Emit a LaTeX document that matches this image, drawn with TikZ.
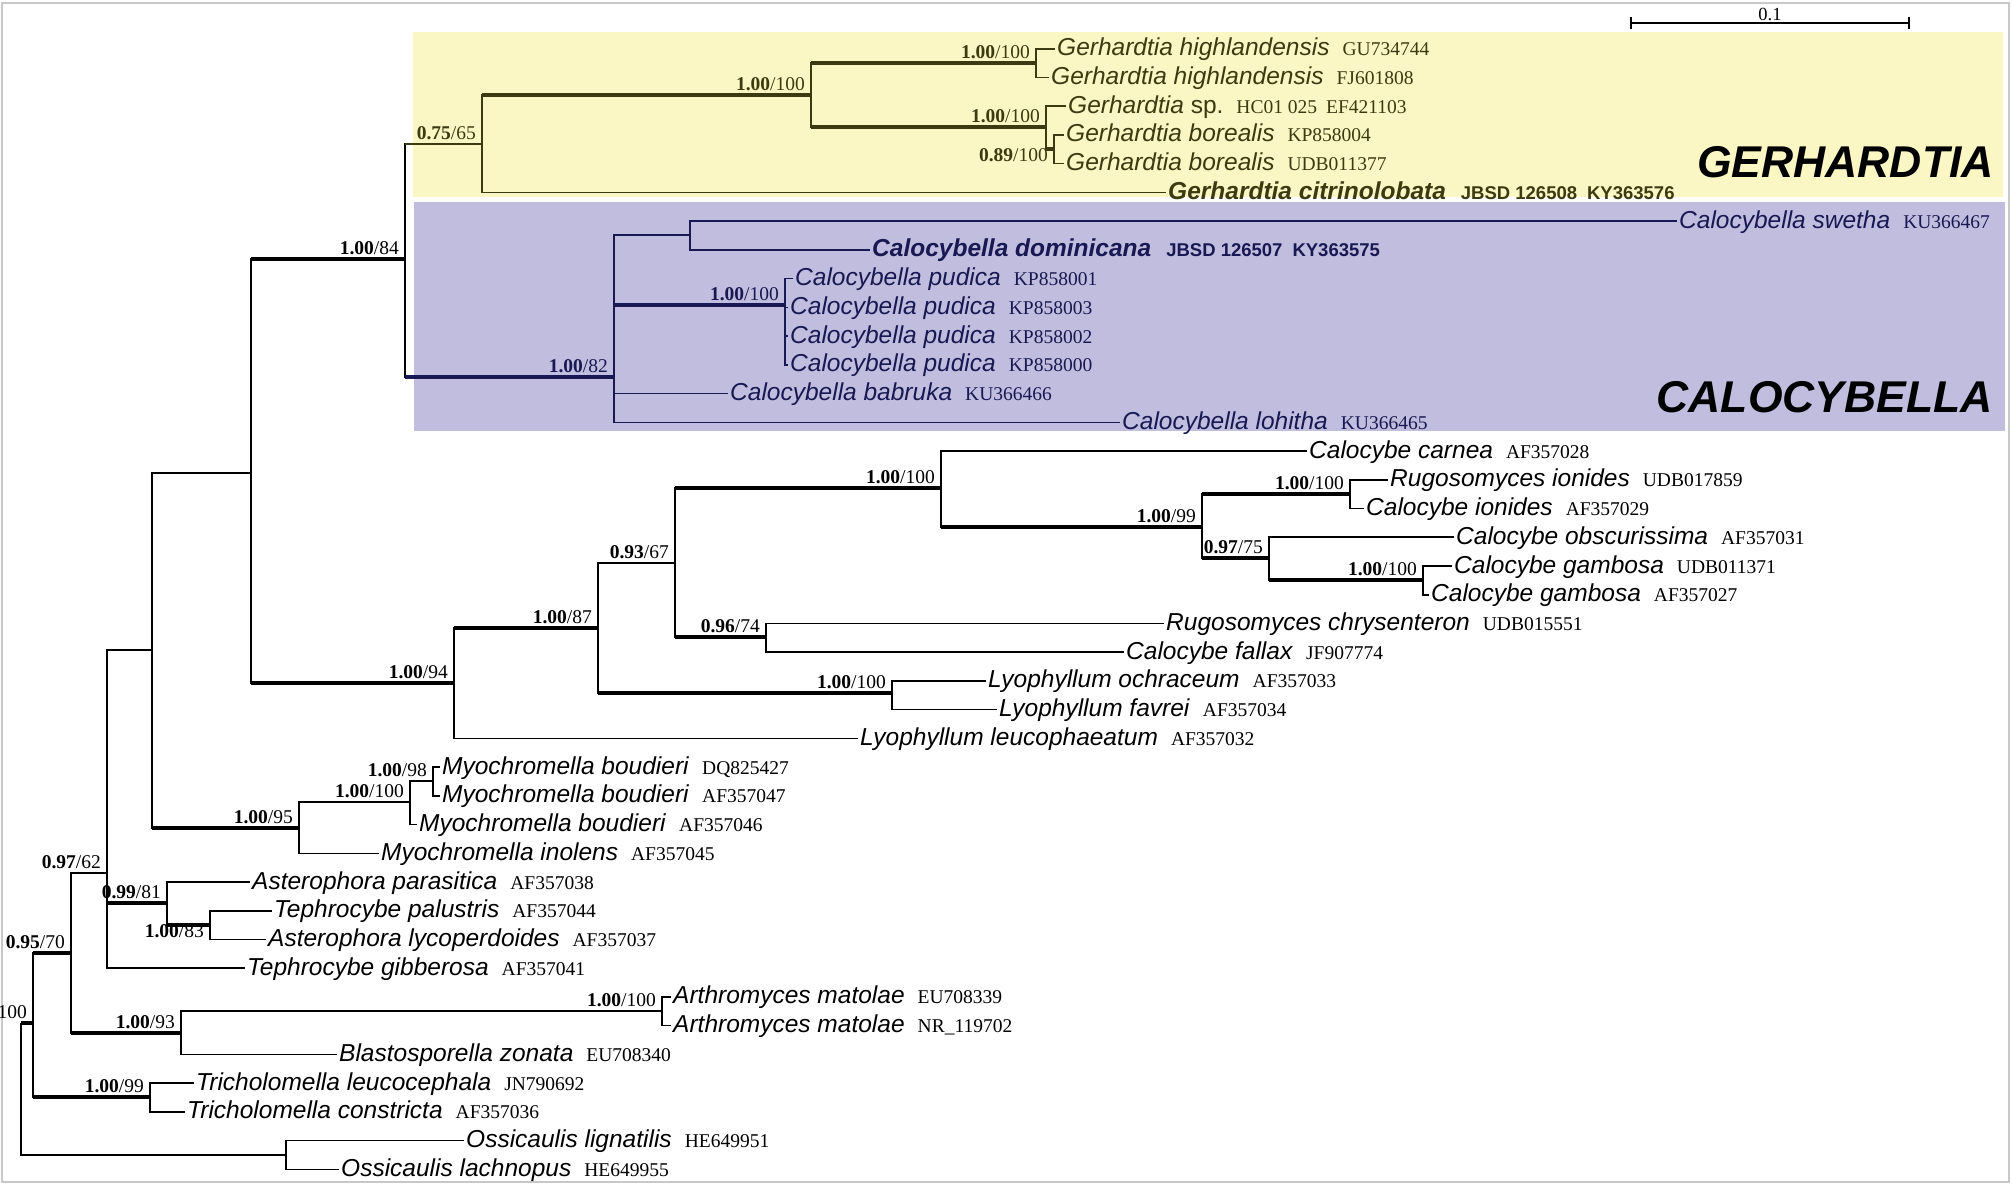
\documentclass[tikz,border=0pt]{standalone}
\usepackage{fontspec}
\setmainfont{Liberation Serif}
\setsansfont{Liberation Sans}
\usepackage{xcolor}
\usepackage{tikz}
\usetikzlibrary{positioning}
\definecolor{gerfill}{RGB}{250,247,196}
\definecolor{calfill}{RGB}{192,189,222}
\definecolor{gerdark}{RGB}{60,58,16}
\definecolor{caldark}{RGB}{24,24,82}
\definecolor{framegray}{RGB}{200,200,200}
\newcommand{\accfont}{\rmfamily\upshape\mdseries\fontsize{19.5}{21}\selectfont}
\newcommand{\taxon}[2]{\textit{#1}\hspace{13pt}{\accfont #2}}
\newcommand{\newtaxon}[2]{\textbf{\textit{#1}}\hspace{15pt}{\bfseries\fontsize{18.5}{20}\selectfont #2}}
\newcommand{\pb}[2]{\textbf{#1}/#2}
\tikzset{
  branch/.style={line width=1.6pt, line join=miter},
  strong/.style={line width=4.2pt},
  leaf/.style={anchor=west, inner xsep=2pt, inner ysep=0pt, text height=17pt, text depth=3pt,
               font=\sffamily\fontsize{24.5}{26}\selectfont},
  gerleaf/.style={leaf, text=gerdark},
  calleaf/.style={leaf, text=caldark},
  supp/.style={anchor=south east, inner sep=0pt, xshift=-6pt, yshift=4pt,
               font=\rmfamily\fontsize{19.5}{21}\selectfont},
  suppbelow/.style={supp, anchor=north east, yshift=-3pt},
  cladename/.style={anchor=base east, inner sep=0pt, font=\sffamily\bfseries\itshape\fontsize{44.5}{50}\selectfont},
  scalebar/.style={line width=1.4pt}
}

\begin{document}
\begin{tikzpicture}[x=1pt, y=-1pt]
\useasboundingbox (0,0) rectangle (2012,1185);
\draw[framegray, line width=1.5pt] (2,3) rectangle (2009,1182);
\fill[gerfill] (413,32) rectangle (2003,197);
\fill[calfill] (414,202) rectangle (2005,431);

\coordinate (root) at (21,1023);
\coordinate (nA) at (33,1023);
\coordinate (nB) at (71,953);
\coordinate (tric) at (150,1097);
\coordinate (oss) at (286,1155);
\coordinate (nC) at (107,873);
\coordinate (nD) at (181,1033);
\coordinate (arth) at (662,1011);
\coordinate (nE) at (152,650);
\coordinate (aster) at (167,903);
\coordinate (nF) at (210,925);
\coordinate (nG) at (251,473);
\coordinate (myo) at (299,828);
\coordinate (myo2) at (410,802);
\coordinate (myo3) at (433,781);
\coordinate (nH) at (405,259);
\coordinate (lyo) at (454,683);
\coordinate (gerh) at (482,144);
\coordinate (calo) at (614,377);
\coordinate (gerh2) at (811,95);
\coordinate (ghigh) at (1036,63);
\coordinate (gbor) at (1046,127);
\coordinate (gbor2) at (1054,149);
\coordinate (calo2) at (690,235);
\coordinate (pud) at (785,305);
\coordinate (lyo2) at (598,628);
\coordinate (lyo3) at (675,563);
\coordinate (lyo4) at (892,693);
\coordinate (calc) at (941,488);
\coordinate (chry) at (766,637);
\coordinate (calc2) at (1202,527);
\coordinate (ion) at (1350,494);
\coordinate (calc3) at (1269,558);
\coordinate (gamb) at (1423,580);

\node[gerleaf] (t1) at (1055,48.8) {\taxon{Gerhardtia highlandensis}{GU734744}};
\node[gerleaf] (t2) at (1049,77.5) {\taxon{Gerhardtia highlandensis}{FJ601808}};
\node[gerleaf] (t3) at (1066,106.3) {\textit{Gerhardtia} sp.\hspace{13pt}{\accfont HC01 025\hspace{9pt}EF421103}};
\node[gerleaf] (t4) at (1064,135.0) {\taxon{Gerhardtia borealis}{KP858004}};
\node[gerleaf] (t5) at (1064,163.7) {\taxon{Gerhardtia borealis}{UDB011377}};
\node[gerleaf] (t6) at (1166,192.5) {\newtaxon{Gerhardtia citrinolobata}{JBSD 126508\hspace{10pt}KY363576}};
\node[calleaf] (t7) at (1677,221.2) {\taxon{Calocybella swetha}{KU366467}};
\node[calleaf] (t8) at (870,249.9) {\newtaxon{Calocybella dominicana}{JBSD 126507\hspace{10pt}KY363575}};
\node[calleaf] (t9) at (793,278.6) {\taxon{Calocybella pudica}{KP858001}};
\node[calleaf] (t10) at (788,307.4) {\taxon{Calocybella pudica}{KP858003}};
\node[calleaf] (t11) at (788,336.1) {\taxon{Calocybella pudica}{KP858002}};
\node[calleaf] (t12) at (788,364.8) {\taxon{Calocybella pudica}{KP858000}};
\node[calleaf] (t13) at (728,393.6) {\taxon{Calocybella babruka}{KU366466}};
\node[calleaf] (t14) at (1120,422.3) {\taxon{Calocybella lohitha}{KU366465}};
\node[leaf] (t15) at (1307,451.0) {\taxon{Calocybe carnea}{AF357028}};
\node[leaf] (t16) at (1388,479.8) {\taxon{Rugosomyces ionides}{UDB017859}};
\node[leaf] (t17) at (1364,508.5) {\taxon{Calocybe ionides}{AF357029}};
\node[leaf] (t18) at (1454,537.2) {\taxon{Calocybe obscurissima}{AF357031}};
\node[leaf] (t19) at (1452,566.0) {\taxon{Calocybe gambosa}{UDB011371}};
\node[leaf] (t20) at (1429,594.7) {\taxon{Calocybe gambosa}{AF357027}};
\node[leaf] (t21) at (1164,623.4) {\taxon{Rugosomyces chrysenteron}{UDB015551}};
\node[leaf] (t22) at (1124,652.1) {\taxon{Calocybe fallax}{JF907774}};
\node[leaf] (t23) at (986,680.9) {\taxon{Lyophyllum ochraceum}{AF357033}};
\node[leaf] (t24) at (997,709.6) {\taxon{Lyophyllum favrei}{AF357034}};
\node[leaf] (t25) at (858,738.3) {\taxon{Lyophyllum leucophaeatum}{AF357032}};
\node[leaf] (t26) at (440,767.1) {\taxon{Myochromella boudieri}{DQ825427}};
\node[leaf] (t27) at (440,795.8) {\taxon{Myochromella boudieri}{AF357047}};
\node[leaf] (t28) at (417,824.5) {\taxon{Myochromella boudieri}{AF357046}};
\node[leaf] (t29) at (379,853.3) {\taxon{Myochromella inolens}{AF357045}};
\node[leaf] (t30) at (250,882.0) {\taxon{Asterophora parasitica}{AF357038}};
\node[leaf] (t31) at (272,910.7) {\taxon{Tephrocybe palustris}{AF357044}};
\node[leaf] (t32) at (266,939.4) {\taxon{Asterophora lycoperdoides}{AF357037}};
\node[leaf] (t33) at (245,968.2) {\taxon{Tephrocybe gibberosa}{AF357041}};
\node[leaf] (t34) at (671,996.9) {\taxon{Arthromyces matolae}{EU708339}};
\node[leaf] (t35) at (671,1025.6) {\taxon{Arthromyces matolae}{NR\_119702}};
\node[leaf] (t36) at (337,1054.4) {\taxon{Blastosporella zonata}{EU708340}};
\node[leaf] (t37) at (194,1083.1) {\taxon{Tricholomella leucocephala}{JN790692}};
\node[leaf] (t38) at (185,1111.8) {\taxon{Tricholomella constricta}{AF357036}};
\node[leaf] (t39) at (464,1140.6) {\taxon{Ossicaulis lignatilis}{HE649951}};
\node[leaf] (t40) at (339,1169.3) {\taxon{Ossicaulis lachnopus}{HE649955}};

\foreach \p/\c in {root/nA, root/oss, nA/nB, nA/tric, nB/nC, nB/nD, nC/nE, nC/aster, nC/t33.west,
    nD/arth, nD/t36.west, arth/t34.west, arth/t35.west, aster/t30.west, aster/nF, nF/t31.west, nF/t32.west,
    nE/nG, nE/myo, nG/nH, nG/lyo, myo/myo2, myo/t29.west, myo2/myo3, myo2/t28.west, myo3/t26.west, myo3/t27.west,
    nH/gerh, nH/calo, lyo/lyo2, lyo/t25.west, lyo2/lyo3, lyo2/lyo4, lyo3/calc, lyo3/chry, lyo4/t23.west, lyo4/t24.west,
    chry/t21.west, chry/t22.west, calc/t15.west, calc/calc2, calc2/ion, calc2/calc3, ion/t16.west, ion/t17.west,
    calc3/t18.west, calc3/gamb, gamb/t19.west, gamb/t20.west, tric/t37.west, tric/t38.west, oss/t39.west, oss/t40.west}
  \draw[branch] (\p) |- (\c);
\foreach \p/\c in {gerh/gerh2, gerh/t6.west, gerh2/ghigh, gerh2/gbor, ghigh/t1.west, ghigh/t2.west,
    gbor/t3.west, gbor/gbor2, gbor2/t4.west, gbor2/t5.west}
  \draw[branch, gerdark] (\p) |- (\c);
\draw[branch, gerdark] (nH |- gerh) -- (gerh);
\foreach \p/\c in {calo/calo2, calo/pud, calo/t13.west, calo/t14.west, calo2/t7.west, calo2/t8.west,
    pud/t9.west, pud/t10.west, pud/t11.west, pud/t12.west}
  \draw[branch, caldark] (\p) |- (\c);

\foreach \p/\c in {root/nA, nA/nB, nA/tric, nB/nD, nC/aster, aster/nF, nE/myo, nG/nH, nG/lyo, lyo/lyo2,
    lyo2/lyo4, lyo3/calc, lyo3/chry, calc/calc2, calc2/ion, calc2/calc3, calc3/gamb}
  \draw[strong] (\p |- \c) -- (\c);
\foreach \p/\c in {gerh/gerh2, gerh2/ghigh, gerh2/gbor, gbor/gbor2}
  \draw[strong, gerdark] (\p |- \c) -- (\c);
\foreach \p/\c in {nH/calo, calo/pud}
  \draw[strong, caldark] (\p |- \c) -- (\c);

\node[supp] (snA) at (nA) {100};
\foreach \n/\a/\b in {nB/0.95/70, tric/1.00/99, nC/0.97/62, nD/1.00/93, arth/1.00/100, aster/0.99/81,
    myo/1.00/95, myo2/1.00/100, myo3/1.00/98, nH/1.00/84, lyo/1.00/94, lyo2/1.00/87, lyo3/0.93/67,
    lyo4/1.00/100, calc/1.00/100, chry/0.96/74, calc2/1.00/99, ion/1.00/100, calc3/0.97/75, gamb/1.00/100}
  \node[supp] (s\n) at (\n) {\pb{\a}{\b}};
\node[suppbelow] (snF) at (nF) {\pb{1.00}{83}};
\foreach \n/\a/\b in {gerh/0.75/65, gerh2/1.00/100, ghigh/1.00/100, gbor/1.00/100}
  \node[supp, text=gerdark] (s\n) at (\n) {\pb{\a}{\b}};
\node[suppbelow, text=gerdark] (sgbor2) at (gbor2) {\pb{0.89}{100}};
\foreach \n/\a/\b in {calo/1.00/82, pud/1.00/100}
  \node[supp, text=caldark] (s\n) at (\n) {\pb{\a}{\b}};

\node[cladename] (gername) at (1994,178) {GERHARDTIA};
\node[cladename] (calname) at (1993,412) {CALOCYBELLA};

\coordinate (sbl) at (1631,23);
\coordinate (sbr) at (1909,23);
\draw[scalebar] (sbl) -- node[above, inner sep=2pt, font=\rmfamily\fontsize{18.5}{20}\selectfont] (sbtext) {0.1} (sbr);
\draw[scalebar] ([yshift=6pt]sbl) -- ([yshift=-6pt]sbl);
\draw[scalebar] ([yshift=6pt]sbr) -- ([yshift=-6pt]sbr);
\end{tikzpicture}
\end{document}
